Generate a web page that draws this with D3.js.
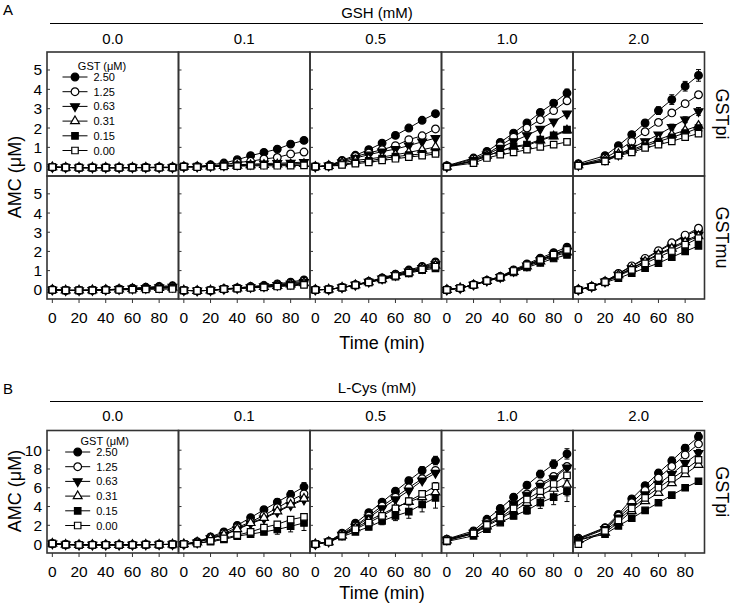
<!DOCTYPE html>
<html><head><meta charset="utf-8">
<script src="https://cdn.jsdelivr.net/npm/d3@7"></script>
<style>body{margin:0;background:#fff}svg{display:block;font-family:"Liberation Sans",Arial,sans-serif}</style>
</head><body><svg id="c" width="731" height="605"></svg>
<script>
// ---------- DATA ----------
const time10 = [0,10,20,30,40,50,60,70,80,90];
const time9  = [0,20,30,40,50,60,70,80,90];
const gstLevels = ["2.50","1.25","0.63","0.31","0.15","0.00"];
const gshLevels = ["0.0","0.1","0.5","1.0","2.0"];
const cysLevels = ["0.0","0.1","0.5","1.0","2.0"];
const yTicksA = [0,1,2,3,4,5];
const yTicksB = [0,2,4,6,8,10];
const xTicks = [0,20,40,60,80];

// Panel A, GSTpi row (series order = gstLevels)
const gshPi_00 = [
 [-0.02,-0.04,-0.05,-0.05,-0.05,-0.05,-0.04,-0.04,-0.03,-0.03],
 [-0.02,-0.04,-0.05,-0.05,-0.05,-0.05,-0.04,-0.04,-0.03,-0.03],
 [-0.02,-0.04,-0.05,-0.05,-0.05,-0.05,-0.04,-0.04,-0.04,-0.04],
 [-0.02,-0.04,-0.05,-0.05,-0.05,-0.05,-0.05,-0.04,-0.04,-0.04],
 [-0.02,-0.04,-0.05,-0.05,-0.05,-0.05,-0.05,-0.05,-0.04,-0.04],
 [-0.02,-0.04,-0.05,-0.05,-0.05,-0.05,-0.05,-0.05,-0.05,-0.05]];
const gshPi_01 = [
 [0,0,0.10,0.19,0.36,0.57,0.74,0.91,1.17,1.36],
 [0,0,0.05,0.10,0.22,0.28,0.40,0.48,0.66,0.76],
 [0,0,0.03,0.06,0.10,0.13,0.16,0.18,0.20,0.24],
 [0,0,0.02,0.04,0.06,0.08,0.10,0.12,0.13,0.15],
 [0,0,0.02,0.04,0.06,0.08,0.10,0.12,0.14,0.16],
 [0,-0.02,0,0.02,0.03,0.04,0.05,0.05,0.06,0.07]];
const gshPi_05 = [
 [0,0.05,0.33,0.59,0.88,1.22,1.62,2.00,2.40,2.74],
 [0,0.05,0.28,0.53,0.71,0.88,1.09,1.40,1.60,1.95],
 [0,0.05,0.22,0.45,0.62,0.78,0.91,1.09,1.29,1.48],
 [0,0.05,0.19,0.33,0.40,0.50,0.62,0.74,0.88,1.02],
 [0,0.04,0.12,0.22,0.30,0.42,0.52,0.60,0.66,0.75],
 [0,0.02,0.09,0.16,0.22,0.33,0.41,0.50,0.57,0.66]];
const gshPi_10 = [
 [0.05,0.45,0.79,1.26,1.74,2.26,2.81,3.29,3.81],
 [0.03,0.40,0.67,1.09,1.53,2.00,2.43,2.90,3.41],
 [0.00,0.33,0.62,0.97,1.31,1.62,1.95,2.33,2.74],
 [0.00,0.28,0.57,0.79,1.02,1.09,1.36,1.57,1.88],
 [0.00,0.30,0.55,0.82,1.05,1.15,1.40,1.62,1.92],
 [0.00,0.19,0.45,0.62,0.74,0.88,1.02,1.14,1.28]];
const gshPi_20 = [
 [0.16,0.57,1.09,1.66,2.26,2.90,3.47,4.16,4.72],
 [0.10,0.45,0.84,1.31,1.81,2.29,2.78,3.26,3.72],
 [0.08,0.36,0.62,0.97,1.31,1.66,2.05,2.43,2.86],
 [0.08,0.36,0.66,0.88,1.14,1.40,1.66,1.88,2.12],
 [0.06,0.30,0.60,0.82,1.06,1.30,1.52,1.74,2.00],
 [0.05,0.28,0.57,0.74,0.97,1.14,1.31,1.53,1.71]];

// Panel A, GSTmu row
const gshMu_00 = [
 [0,-0.03,-0.03,-0.02,0,0.04,0.08,0.13,0.18,0.21],
 [0,-0.03,-0.03,-0.02,0,0.03,0.07,0.10,0.14,0.17],
 [0,-0.03,-0.03,-0.02,0,0.03,0.06,0.09,0.12,0.15],
 [0,-0.03,-0.03,-0.02,0,0.02,0.05,0.07,0.10,0.12],
 [0,-0.03,-0.03,-0.02,-0.01,0.02,0.04,0.06,0.08,0.10],
 [0,-0.03,-0.03,-0.03,-0.02,0,0.01,0.02,0.03,0.04]];
const gshMu_01 = [
 [-0.03,-0.05,-0.03,0.05,0.10,0.17,0.23,0.31,0.40,0.52],
 [-0.03,-0.05,-0.03,0.04,0.09,0.15,0.20,0.27,0.35,0.45],
 [-0.03,-0.05,-0.03,0.04,0.08,0.13,0.18,0.24,0.31,0.40],
 [-0.03,-0.05,-0.03,0.03,0.07,0.12,0.16,0.21,0.28,0.35],
 [-0.03,-0.05,-0.03,0.03,0.07,0.11,0.15,0.19,0.25,0.30],
 [-0.03,-0.05,-0.03,0.03,0.06,0.10,0.13,0.17,0.20,0.26]];
const gshMu_05 = [
 [0,0.02,0.12,0.26,0.43,0.62,0.82,1.03,1.22,1.45],
 [0,0.02,0.12,0.25,0.42,0.60,0.78,0.98,1.17,1.38],
 [0,0.02,0.12,0.25,0.41,0.58,0.76,0.95,1.13,1.32],
 [0,0.02,0.12,0.24,0.40,0.56,0.73,0.91,1.09,1.26],
 [0,0.02,0.11,0.23,0.38,0.53,0.69,0.86,1.02,1.12],
 [0,0.02,0.11,0.24,0.39,0.55,0.72,0.90,1.06,1.20]];
const gshMu_10 = [
 [0,0.09,0.26,0.49,0.69,1.04,1.35,1.65,1.94,2.22],
 [0,0.09,0.26,0.48,0.68,1.00,1.30,1.58,1.86,2.12],
 [0,0.09,0.26,0.47,0.66,0.97,1.26,1.53,1.80,2.02],
 [0,0.09,0.25,0.46,0.64,0.94,1.22,1.48,1.74,1.95],
 [0,0.09,0.25,0.45,0.62,0.90,1.16,1.40,1.63,1.82],
 [0,0.09,0.26,0.47,0.66,0.98,1.28,1.56,1.83,2.08]];
const gshMu_20 = [
 [0,0.17,0.43,0.83,1.22,1.60,2.00,2.40,2.81,3.12],
 [0,0.17,0.44,0.85,1.25,1.64,2.04,2.45,2.85,3.21],
 [0,0.16,0.42,0.78,1.12,1.50,1.87,2.20,2.55,2.86],
 [0,0.16,0.42,0.76,1.10,1.47,1.83,2.15,2.48,2.80],
 [0,0.15,0.38,0.60,0.87,1.13,1.39,1.70,2.00,2.29],
 [0,0.16,0.40,0.72,1.04,1.38,1.70,2.02,2.35,2.69]];

// Panel B, L-Cys / GSTpi
const cysPi_00 = [
 [0.05,-0.05,-0.08,-0.08,-0.08,-0.08,-0.08,-0.06,-0.05,-0.03],
 [0.05,-0.05,-0.08,-0.08,-0.08,-0.08,-0.08,-0.06,-0.05,-0.03],
 [0.05,-0.05,-0.08,-0.08,-0.08,-0.08,-0.08,-0.06,-0.05,-0.03],
 [0.05,-0.05,-0.08,-0.08,-0.08,-0.08,-0.08,-0.06,-0.05,-0.03],
 [0.05,-0.05,-0.08,-0.08,-0.08,-0.08,-0.08,-0.06,-0.05,-0.03],
 [0.05,-0.05,-0.08,-0.08,-0.08,-0.08,-0.08,-0.06,-0.05,-0.03]];
const cysPi_01 = [
 [0,0.25,0.77,1.30,2.00,2.82,3.66,4.47,5.28,6.10],
 [0,0.20,0.70,1.13,1.76,2.36,3.06,3.87,4.65,5.35],
 [0,0.15,0.60,0.95,1.55,2.18,2.71,3.42,4.12,4.72],
 [0,0.18,0.62,1.00,1.60,2.25,2.80,3.50,4.20,4.85],
 [0,0.10,0.25,0.49,0.85,1.06,1.30,1.55,1.90,2.25],
 [0,0.05,0.35,0.60,0.95,1.30,1.76,2.11,2.61,2.89]];
const cysPi_05 = [
 [0,0.28,1.16,2.22,3.35,4.47,5.63,6.76,7.85,8.90],
 [0,0.26,1.06,1.94,3.00,4.05,5.00,6.00,6.97,7.85],
 [0,0.25,0.99,1.83,2.82,3.80,4.75,5.70,6.76,7.57],
 [0,0.22,0.90,1.70,2.50,3.20,3.90,4.50,5.00,5.50],
 [0,0.20,0.80,1.30,1.83,2.46,3.00,3.45,4.23,4.93],
 [0,0.22,0.88,1.58,2.29,3.00,3.80,4.58,5.35,6.16]];
const cysPi_10 = [
 [0.53,1.41,2.64,3.80,5.00,6.27,7.46,8.52,9.61],
 [0.50,1.23,2.29,3.00,4.23,5.35,6.40,7.20,8.27],
 [0.48,1.20,2.20,3.20,4.30,5.25,6.20,7.00,8.15],
 [0.40,1.10,1.90,2.70,3.50,4.40,5.20,5.90,6.34],
 [0.28,0.88,1.58,2.29,3.00,3.59,4.40,5.00,5.63],
 [0.35,1.13,2.04,2.82,3.80,4.75,5.63,6.40,7.32]];
const cysPi_20 = [
 [0.63,1.76,3.17,4.82,6.23,7.57,8.87,10.21,11.44],
 [0.55,1.69,3.00,4.40,5.70,7.04,8.27,9.50,10.67],
 [0.50,1.58,2.82,4.05,5.28,6.40,7.46,8.63,9.68],
 [0.45,1.23,2.29,3.52,4.58,5.46,6.50,7.46,8.45],
 [0.42,1.06,1.94,2.75,3.59,4.40,5.21,6.00,6.69],
 [0.00,1.41,2.54,3.80,4.93,6.00,6.97,7.92,8.98]];

// error bars (SD), null = not visible
const errPi_10 = [[0,0,0,0.05,0.08,0.10,0.12,0.15,0.20],null,[0,0,0,0,0.05,0.05,0.08,0.10,0.12],null,null,null];
const errPi_20 = [[0,0,0.05,0.10,0.15,0.20,0.25,0.25,0.30],[0,0,0,0.05,0.08,0.10,0.12,0.15,0.15],[0,0,0,0.05,0.08,0.10,0.15,0.15,0.20],[0,0,0,0,0.05,0.08,0.10,0.10,0.12],null,null];
const errMu_05 = [[0,0,0,0.03,0.05,0.06,0.08,0.10,0.10,0.15],null,null,null,null,null];
const errMu_10 = [[0,0,0,0.03,0.05,0.06,0.08,0.10,0.12,0.15],null,null,null,null,null];
const errCys_01 = [[0,0,0,0.15,0.2,0.25,0.3,0.35,0.4,0.45],null,null,null,[0,0,0,0.1,0.2,0.25,0.3,0.5,0.6,0.8],[0,0,0,0,0.1,0.15,0.2,0.25,0.3,0.3]];
const errCys_05 = [[0,0,0,0.15,0.2,0.25,0.3,0.35,0.4,0.45],null,null,null,[0,0,0,0.2,0.3,0.4,0.5,0.7,0.8,1.1],[0,0,0,0.1,0.15,0.2,0.25,0.3,0.35,0.4]];
const errCys_10 = [[0,0,0.1,0.2,0.3,0.35,0.4,0.45,0.55],null,null,[0,0,0.1,0.2,0.3,0.4,0.6,0.9,1.2],[0,0,0.1,0.2,0.3,0.4,0.6,0.8,1.1],null];
const errCys_20 = [[0,0,0.1,0.2,0.3,0.35,0.4,0.4,0.45],null,[0,0,0.1,0.2,0.2,0.3,0.3,0.3,0.4],null,[0,0,0.1,0.1,0.1,0.15,0.15,0.2,0.2],null];

// ---------- LAYOUT ----------
const svg = d3.select("#c");
const left0 = 47, pw = 131.5;
const frameColor = "#333";
const FONT = '"Liberation Sans",Arial,sans-serif';

const rows = [
  {top:52,  h:124, dom:[-0.48,5.93], ticks:yTicksA, data:[gshPi_00,gshPi_01,gshPi_05,gshPi_10,gshPi_20],
   err:[null,null,null,errPi_10,errPi_20], times:[time10,time10,time10,time9,time9], label:"GSTpi", legend:true, xaxis:false},
  {top:176, h:123, dom:[-0.48,5.93], ticks:yTicksA, data:[gshMu_00,gshMu_01,gshMu_05,gshMu_10,gshMu_20],
   err:[null,null,errMu_05,errMu_10,null], times:[time10,time10,time10,time10,time10], label:"GSTmu", legend:false, xaxis:true},
  {top:430.5, h:122.5, dom:[-0.95,12.1], ticks:yTicksB, data:[cysPi_00,cysPi_01,cysPi_05,cysPi_10,cysPi_20],
   err:[null,errCys_01,errCys_05,errCys_10,errCys_20], times:[time10,time10,time10,time9,time9], label:"GSTpi", legend:true, xaxis:true}
];

const x = d3.scaleLinear().domain([-4,94.5]).range([0,pw]);

function marker(g, i, cx, cy){
  const filled = [true,false,true,false,true,false][i];
  let type, size, rot = 0;
  if (i<2){type=d3.symbolCircle; size=46;}
  else if (i<4){type=d3.symbolTriangle; size=34; rot = i===2?180:0;}
  else {type=d3.symbolSquare; size=42;}
  g.append("path").attr("d", d3.symbol().type(type).size(size)())
    .attr("transform",`translate(${cx},${cy}) rotate(${rot})`)
    .attr("fill", filled?"#000":"#fff").attr("stroke","#000").attr("stroke-width",1.2);
}

rows.forEach((row) => {
  const y = d3.scaleLinear().domain(row.dom).range([row.top+row.h, row.top]);
  for (let p=0;p<5;p++){
    const px = left0 + p*pw;
    const g = svg.append("g").attr("transform",`translate(${px},0)`);
    row.ticks.forEach(t=>{
      g.append("line").attr("x1",0).attr("x2",3).attr("y1",y(t)).attr("y2",y(t)).attr("stroke",frameColor).attr("stroke-width",1);
    });
    if (p===0){
      row.ticks.forEach(t=>{
        svg.append("text").attr("x",px-5).attr("y",y(t)+5.5).attr("text-anchor","end")
          .attr("font-size",15.5).attr("font-family",FONT).text(t);
      });
    }
    if (row.xaxis){
      const yb = row.top+row.h;
      xTicks.forEach(t=>{
        g.append("line").attr("x1",x(t)).attr("x2",x(t)).attr("y1",yb).attr("y2",yb+4).attr("stroke",frameColor).attr("stroke-width",1);
        g.append("text").attr("x",x(t)).attr("y",yb+24).attr("text-anchor","middle")
          .attr("font-size",15.5).attr("font-family",FONT).text(t);
      });
    }
    const T = row.times[p];
    const series = row.data[p];
    const errs = row.err[p];
    const line = d3.line().x((d,k)=>x(T[k])).y(d=>y(d));
    series.forEach((s,i)=>{
      g.append("path").attr("d",line(s)).attr("fill","none").attr("stroke","#000").attr("stroke-width",1);
    });
    if (errs) errs.forEach((e,i)=>{
      if(!e) return;
      e.forEach((v,k)=>{
        if(!v) return;
        const cx = x(T[k]), y1 = y(series[i][k]+v), y0 = y(series[i][k]-v);
        g.append("line").attr("x1",cx).attr("x2",cx).attr("y1",y0).attr("y2",y1).attr("stroke","#000").attr("stroke-width",1);
        g.append("line").attr("x1",cx-2.5).attr("x2",cx+2.5).attr("y1",y1).attr("y2",y1).attr("stroke","#000").attr("stroke-width",1);
        g.append("line").attr("x1",cx-2.5).attr("x2",cx+2.5).attr("y1",y0).attr("y2",y0).attr("stroke","#000").attr("stroke-width",1);
      });
    });
    series.forEach((s,i)=>{
      s.forEach((v,k)=>marker(g,i,x(T[k]),y(v)));
    });
    g.append("rect").attr("x",0).attr("y",row.top).attr("width",pw).attr("height",row.h)
      .attr("fill","none").attr("stroke",frameColor).attr("stroke-width",1.6);
  }
  const cy = row.top + row.h/2;
  svg.append("text").attr("transform",`translate(716,${cy}) rotate(90)`).attr("text-anchor","middle")
    .attr("font-size",18).attr("font-family",FONT).text(row.label);
  if (row.legend){
    const isB = row.top>300;
    const lx = isB? 77.7 : 75;
    const ty = isB? row.top+14 : row.top+18;
    const ey0 = isB? row.top+21.5 : row.top+25;
    const sp = 14.7;
    svg.append("text").attr("x",lx+27).attr("y",ty).attr("text-anchor","middle")
      .attr("font-size",11).attr("font-family",FONT).text("GST (\u03bcM)");
    gstLevels.forEach((lab,i)=>{
      const yy = ey0 + i*sp;
      svg.append("line").attr("x1",lx-12.5).attr("x2",lx+12.5).attr("y1",yy).attr("y2",yy).attr("stroke","#000").attr("stroke-width",1);
      marker(svg,i,lx,yy);
      svg.append("text").attr("x",lx+18.5).attr("y",yy+4).attr("font-size",11).attr("font-family",FONT).text(lab);
    });
  }
});

function header(letter, title, levels, yLetter, yTitle, yRule, yLabels){
  svg.append("text").attr("x",3).attr("y",yLetter).attr("font-size",15).attr("font-family",FONT).text(letter);
  svg.append("text").attr("x",377).attr("y",yTitle).attr("text-anchor","middle").attr("font-size",15).attr("font-family",FONT).text(title);
  svg.append("line").attr("x1",50).attr("x2",703).attr("y1",yRule).attr("y2",yRule).attr("stroke","#000").attr("stroke-width",1.2);
  levels.forEach((l,i)=>{
    svg.append("text").attr("x",left0+pw*(i+0.5)).attr("y",yLabels).attr("text-anchor","middle")
      .attr("font-size",15).attr("font-family",FONT).text(l);
  });
}
header("A","GSH (mM)",gshLevels,15,18,23.5,43.5);
header("B","L-Cys (mM)",cysLevels,394,392.5,401.5,421);

[[177,"AMC (\u03bcM)"],[491,"AMC (\u03bcM)"]].forEach(([cy,t])=>{
  svg.append("text").attr("transform",`translate(21,${cy}) rotate(-90)`).attr("text-anchor","middle")
    .attr("font-size",18).attr("font-family",FONT).text(t);
});
[343,593].forEach(cy=>{
  svg.append("text").attr("x",382).attr("y",cy+6).attr("text-anchor","middle")
    .attr("font-size",18).attr("font-family",FONT).text("Time (min)");
});
</script></body></html>
